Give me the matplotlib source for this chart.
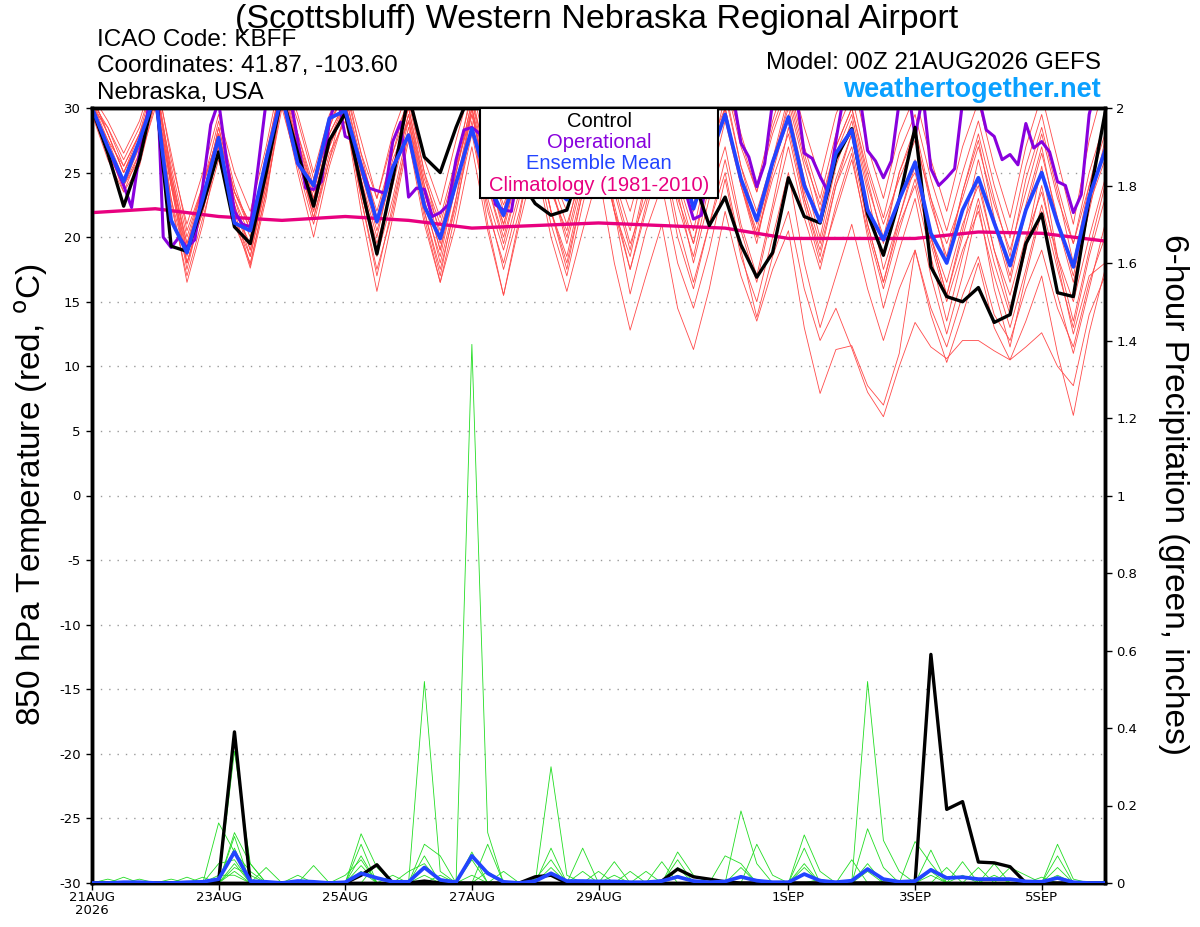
import numpy as np
import matplotlib.pyplot as plt
from matplotlib.patches import Rectangle

plt.rcParams['font.family'] = ['Liberation Sans Narrow', 'Liberation Sans', 'DejaVu Sans']

# forecast hours (6-hourly ensemble, 3-hourly operational run)
hours = np.arange(0, 385, 6)
hours_op = np.arange(0, 385, 3)
clim_hours = np.arange(0, 385, 24)

tick_hours = [0, 48, 96, 144, 192, 264, 312, 360]
tick_labels = ['21AUG\n2026', '23AUG', '25AUG', '27AUG', '29AUG', '1SEP', '3SEP', '5SEP']

# 850 hPa temperature (C)
control_t = [30.0, 26.5, 22.4, 26.0, 31.5, 19.3, 18.9, 22.5,
             26.6, 20.8, 19.5, 25.0, 31.0, 26.5, 22.4, 27.5,
             29.6, 24.0, 18.7, 24.5, 31.0, 26.2, 25.0, 28.5,
             31.5, 29.0, 25.0, 24.5, 22.6, 21.7, 22.1, 26.0,
             28.0, 30.0, 25.5, 27.0, 30.0, 28.0, 24.5, 20.9,
             23.1, 19.4, 16.9, 18.8, 24.6, 21.6, 21.1, 26.1,
             28.4, 21.8, 18.6, 22.9, 28.5, 17.7, 15.4, 15.0,
             16.1, 13.4, 14.0, 19.5, 21.8, 15.7, 15.4, 22.9, 29.6]

mean_t = [30.0, 27.0, 24.3, 27.5, 31.0, 21.3, 18.8, 23.0,
          27.7, 21.1, 20.5, 26.0, 31.0, 25.7, 24.0, 29.2,
          29.8, 25.5, 21.2, 25.4, 27.9, 22.4, 19.9, 24.2,
          28.4, 24.2, 21.7, 25.5, 26.0, 24.0, 22.9, 26.0,
          28.5, 27.0, 25.0, 27.0, 29.0, 27.0, 22.2, 26.0,
          29.5, 24.5, 21.3, 25.8, 29.3, 24.0, 21.2, 26.5,
          28.3, 22.1, 19.8, 22.9, 25.8, 20.3, 18.0, 22.1,
          24.6, 21.1, 17.8, 22.1, 25.0, 21.1, 17.7, 23.1, 26.7]

oper_t = [30.0, 28.5, 27.0, 25.5, 24.0, 22.3, 26.5, 29.5, 36.0, 20.0,
          19.2, 20.0, 19.2, 19.8, 24.0, 28.7, 30.5, 26.0, 22.0, 21.0,
          20.8, 25.5, 30.5, 32.0, 32.0, 31.0, 27.5, 23.8, 23.7, 24.3,
          29.0, 31.0, 27.8, 27.5, 25.5, 23.8, 23.6, 23.4, 27.4, 28.9,
          23.1, 23.8, 23.7, 21.6, 21.9, 22.5, 26.0, 28.3, 28.5, 28.0,
          25.0, 22.5, 22.1, 22.0, 26.0, 28.0, 31.0, 31.0, 28.0, 26.0,
          25.0, 26.0, 28.0, 31.0, 32.0, 31.0, 28.0, 26.0, 25.0, 26.0,
          29.0, 31.0, 32.0, 30.0, 26.0, 23.5, 21.4, 21.7, 27.0, 31.0,
          32.0, 31.0, 27.3, 26.2, 23.9, 25.7, 30.5, 32.0, 32.0, 31.0,
          26.5, 26.1, 24.7, 23.5, 27.5, 31.0, 32.0, 31.0, 26.7, 25.9,
          24.6, 25.9, 30.5, 32.0, 27.8, 31.0, 25.3, 24.0, 24.6, 25.3,
          30.5, 32.0, 31.0, 28.3, 27.8, 26.0, 26.4, 25.6, 28.8, 26.9,
          27.4, 26.6, 24.3, 24.0, 21.9, 23.3, 29.5, 32.0, 32.0]

clim_t = [21.9, 22.2, 21.6, 21.3, 21.6, 21.3, 20.7, 20.9, 21.1,
          20.9, 20.7, 19.9, 19.9, 19.9, 20.4, 20.3, 19.7]

member_t = [
    [30.5, 28.0, 25.0, 27.5, 32.0, 25.0, 19.5, 23.0, 28.5, 23.5, 21.0, 26.0, 32.5, 29.0, 24.5, 29.0,
     31.0, 26.0, 22.0, 26.5, 30.0, 24.0, 20.5, 25.0, 30.5, 26.0, 22.5, 26.0, 28.0, 25.0, 23.0, 27.0,
     31.0, 28.0, 25.0, 28.5, 32.0, 27.0, 23.5, 28.0, 31.5, 25.5, 22.0, 26.0, 31.0, 26.0, 22.5, 27.0,
     30.0, 25.0, 21.0, 24.5, 27.5, 23.0, 19.5, 23.0, 27.0, 22.5, 19.0, 23.5, 28.0, 23.0, 19.5, 24.0, 29.0],
    [29.5, 26.5, 24.0, 26.5, 30.5, 22.5, 17.0, 21.5, 26.0, 21.5, 18.5, 24.0, 31.0, 26.0, 21.5, 26.5,
     29.0, 23.5, 18.5, 23.0, 28.5, 22.0, 17.5, 22.5, 28.0, 22.0, 18.0, 23.0, 26.5, 21.0, 17.0, 22.5,
     27.5, 22.0, 18.5, 24.0, 29.0, 23.0, 19.5, 24.5, 30.0, 24.0, 20.0, 25.0, 29.5, 23.0, 18.5, 24.0,
     28.0, 21.0, 16.5, 21.5, 26.0, 20.0, 15.5, 20.0, 24.5, 19.0, 14.5, 19.5, 25.5, 18.5, 13.5, 19.0, 24.0],
    [30.0, 27.0, 24.5, 27.0, 31.5, 23.0, 16.5, 21.0, 27.0, 22.0, 17.8, 23.5, 30.5, 25.0, 20.0, 25.5,
     29.5, 22.0, 15.8, 21.5, 27.5, 21.0, 16.5, 22.0, 29.0, 21.0, 15.5, 21.0, 26.0, 20.0, 15.8, 20.5,
     25.0, 18.0, 12.8, 17.0, 21.0, 14.5, 11.3, 16.0, 22.0, 17.0, 13.5, 17.5, 20.5, 13.0, 7.9, 11.3,
     11.6, 8.5, 7.0, 11.0, 19.0, 14.0, 10.3, 14.0, 18.0, 13.0, 10.5, 13.5, 17.0, 11.0, 6.2, 12.6, 17.5],
    [30.5, 27.5, 25.5, 28.0, 31.0, 24.0, 18.0, 22.0, 27.5, 22.5, 19.0, 24.5, 31.5, 27.0, 23.0, 27.5,
     30.0, 24.0, 19.5, 24.0, 29.0, 22.5, 18.5, 24.0, 30.0, 23.0, 19.0, 23.5, 27.0, 22.0, 18.5, 24.0,
     28.0, 22.5, 17.5, 22.0, 26.5, 20.0, 16.0, 21.0, 25.0, 19.0, 13.8, 18.5, 22.0, 16.0, 12.0, 14.5,
     11.4, 8.0, 6.1, 10.0, 13.4, 11.5, 10.6, 12.0, 12.0, 11.2, 10.5, 11.5, 12.6, 10.0, 8.5, 14.0, 17.0],
    [29.5, 27.0, 24.0, 26.0, 30.0, 23.0, 18.0, 22.5, 27.0, 22.0, 19.5, 25.0, 31.0, 26.5, 22.0, 27.0,
     30.0, 23.0, 17.5, 22.0, 28.0, 21.5, 16.5, 21.0, 27.0, 20.5, 15.5, 21.5, 28.0, 22.0, 17.5, 23.5,
     29.0, 22.0, 15.6, 20.5, 24.0, 18.0, 14.5, 19.0, 24.5, 18.5, 15.0, 20.0, 25.0, 18.0, 13.0, 17.0,
     21.0, 16.0, 12.0, 16.0, 19.0, 14.5, 11.5, 15.5, 18.5, 14.0, 12.0, 16.0, 19.0, 14.5, 11.5, 16.5, 20.0],
    [31.0, 29.0, 26.5, 29.0, 33.0, 26.0, 21.0, 25.0, 29.5, 25.0, 22.0, 27.0, 33.0, 29.5, 25.0, 29.5,
     32.0, 27.5, 23.0, 28.0, 31.5, 26.0, 22.5, 27.5, 32.0, 27.5, 24.0, 28.5, 31.0, 27.5, 24.5, 29.0,
     32.0, 29.0, 26.0, 30.5, 33.0, 29.0, 25.5, 30.0, 33.0, 28.0, 24.0, 29.0, 33.0, 28.5, 24.5, 29.5,
     32.5, 27.0, 23.0, 28.0, 31.0, 26.0, 22.0, 27.0, 30.5, 25.5, 21.5, 27.0, 31.0, 26.0, 21.0, 27.5, 32.0],
    [30.0, 28.5, 25.5, 28.0, 31.5, 25.5, 20.0, 24.0, 28.0, 23.0, 20.0, 25.5, 32.0, 28.0, 24.0, 28.0,
     30.5, 25.0, 21.5, 25.5, 29.0, 23.5, 19.0, 24.0, 29.5, 24.5, 21.0, 25.5, 29.0, 25.0, 22.0, 26.0,
     30.0, 25.5, 22.0, 26.5, 30.5, 24.5, 20.5, 26.0, 30.0, 24.0, 20.5, 25.5, 29.0, 23.5, 19.5, 24.5,
     28.0, 22.5, 18.5, 23.0, 25.0, 20.0, 16.5, 21.0, 24.0, 19.0, 15.5, 20.0, 23.5, 18.5, 15.0, 20.0, 24.5],
    [30.5, 27.0, 23.5, 26.5, 32.0, 24.5, 18.5, 23.5, 27.0, 21.5, 17.6, 23.0, 31.0, 27.5, 23.5, 28.5,
     31.5, 26.5, 23.0, 27.5, 30.5, 25.0, 21.5, 26.0, 31.0, 25.5, 21.0, 25.5, 30.0, 26.0, 23.5, 27.5,
     31.5, 27.0, 24.0, 28.0, 31.0, 26.0, 22.0, 27.0, 30.0, 24.5, 20.0, 24.5, 28.0, 22.5, 18.0, 22.0,
     26.0, 20.5, 16.0, 20.5, 24.5, 19.5, 15.0, 19.0, 22.0, 17.0, 13.0, 17.5, 22.5, 17.5, 13.0, 18.5, 23.0],
    [30.0, 27.5, 24.5, 27.5, 31.0, 24.0, 19.0, 23.0, 28.5, 23.5, 20.5, 26.5, 32.0, 27.0, 22.5, 27.0,
     30.0, 24.5, 20.0, 25.5, 30.0, 24.5, 21.0, 25.5, 29.5, 24.0, 20.0, 24.5, 28.5, 24.5, 21.0, 25.0,
     27.0, 22.0, 17.5, 22.5, 28.0, 22.5, 18.5, 24.0, 29.0, 24.0, 19.5, 25.5, 30.5, 25.5, 21.0, 26.5,
     29.5, 24.0, 20.0, 25.0, 28.0, 22.5, 18.5, 23.5, 27.5, 21.5, 17.0, 22.5, 27.0, 21.0, 16.5, 22.0, 27.5],
    [31.0, 28.0, 25.0, 28.0, 32.5, 25.0, 19.0, 24.0, 29.0, 24.0, 20.5, 25.5, 31.5, 26.5, 21.5, 26.0,
     29.5, 23.0, 17.0, 22.5, 28.0, 22.0, 17.0, 23.0, 30.0, 25.0, 21.5, 26.5, 29.5, 24.0, 19.5, 24.5,
     30.0, 24.5, 20.5, 26.0, 31.5, 26.5, 22.5, 27.5, 32.0, 27.0, 23.5, 28.5, 32.0, 27.0, 23.0, 28.0,
     31.0, 25.5, 21.5, 26.5, 29.5, 24.5, 20.5, 25.0, 29.0, 24.0, 20.0, 25.5, 29.5, 24.0, 19.5, 25.0, 29.0],
    [29.5, 26.0, 23.5, 25.5, 30.5, 24.5, 18.0, 22.0, 26.5, 21.0, 18.0, 23.5, 30.0, 25.5, 21.0, 26.0,
     31.0, 25.5, 21.0, 26.0, 29.0, 23.0, 18.0, 23.0, 28.5, 22.5, 17.5, 22.0, 27.5, 22.0, 18.0, 23.5,
     29.5, 24.0, 19.5, 23.0, 27.0, 21.0, 16.5, 21.0, 26.0, 20.5, 16.5, 22.0, 27.0, 21.5, 17.5, 22.5,
     26.5, 20.0, 14.5, 19.0, 23.0, 17.0, 12.5, 17.0, 22.5, 16.0, 11.5, 17.0, 22.0, 15.5, 11.0, 16.0, 21.0],
    [30.5, 28.5, 26.0, 28.5, 32.5, 26.5, 20.5, 24.0, 28.0, 23.0, 19.0, 24.0, 32.5, 28.0, 23.5, 28.5,
     32.0, 26.5, 21.5, 26.5, 31.0, 25.0, 20.0, 25.5, 31.5, 26.5, 22.0, 27.0, 30.5, 26.0, 23.0, 27.5,
     31.5, 27.0, 23.5, 28.5, 32.5, 27.5, 23.0, 28.5, 32.5, 27.5, 23.5, 28.0, 31.5, 26.5, 22.0, 27.0,
     30.0, 24.5, 19.5, 25.0, 28.5, 23.0, 18.0, 23.5, 28.0, 23.0, 18.5, 24.5, 28.5, 23.5, 18.0, 24.0, 28.0],
    [30.0, 27.0, 24.0, 27.0, 31.0, 24.0, 17.5, 22.5, 27.5, 22.5, 18.5, 24.5, 31.0, 26.0, 22.0, 27.5,
     30.5, 25.0, 20.5, 25.0, 29.5, 24.0, 19.5, 25.0, 30.5, 25.0, 20.5, 25.5, 29.5, 24.0, 20.0, 25.0,
     29.0, 23.5, 19.0, 24.5, 29.5, 24.0, 19.5, 25.5, 31.0, 25.5, 21.0, 26.0, 30.0, 24.5, 20.0, 25.5,
     29.0, 23.5, 17.5, 21.5, 25.5, 20.0, 15.5, 20.5, 26.0, 21.0, 16.5, 22.0, 26.5, 21.5, 17.0, 22.5, 26.0],
    [31.0, 28.0, 25.0, 27.5, 31.5, 24.5, 19.5, 24.0, 28.0, 23.5, 21.0, 26.0, 32.0, 27.5, 23.0, 28.0,
     30.5, 24.5, 19.0, 24.5, 29.5, 23.5, 19.0, 25.0, 30.0, 24.0, 19.5, 24.5, 29.0, 23.5, 20.5, 26.0,
     31.0, 26.5, 23.0, 27.5, 30.0, 23.5, 18.0, 23.0, 27.0, 21.0, 17.0, 22.5, 28.5, 23.0, 19.0, 24.0,
     27.0, 21.0, 16.5, 21.0, 24.0, 18.5, 13.5, 18.5, 23.0, 18.0, 14.0, 19.0, 24.0, 18.0, 12.5, 17.0, 18.0],
]

# 6-hour precipitation (inches)
control_p = [0, 0, 0, 0, 0, 0, 0, 0, .005, .39, 0, 0, 0,
             0, 0, 0, 0, .02, .047, 0, 0, .005, 0, 0, 0, 0,
             0, 0, .016, .02, 0, 0, 0, 0, 0, 0, .005, .036, .016,
             .01, .003, 0, 0, 0, 0, 0, 0, 0, 0, 0, 0, 0,
             0, .59, .19, .21, .054, .052, .042, 0, 0, 0, 0, 0, 0]

mean_p = [0, 0, .002, .002, 0, 0, .002, .003, .01, .08, .005, .003, 0,
          .005, .003, 0, .002, .025, .013, .003, .003, .04, .008, .002, .07, .025,
          .003, 0, .005, .025, .005, .005, .004, .004, .002, .002, .005, .016, .005,
          .002, .004, .016, .006, .002, .002, .023, .006, .002, .006, .036, .01, .003,
          .005, .034, .013, .015, .01, .01, .01, .004, .003, .013, .002, 0, 0]

member_p = [
    [0, 0, .015, 0, 0, 0, 0, 0, .155, .08, .03, 0, 0,
     0, 0, 0, 0, .127, .04, 0, 0, 0, 0, 0, 0, 0,
     0, 0, 0, .30, .02, 0, 0, 0, 0, 0, 0, 0, 0,
     0, 0, .186, .05, 0, 0, 0, 0, 0, 0, .14, .04, 0,
     0, 0, 0, 0, 0, 0, 0, 0, 0, .1, .01, 0, 0],
    [0, 0, 0, .01, 0, 0, 0, 0, 0, .34, .05, 0, 0,
     0, 0, 0, 0, 0, 0, 0, 0, .52, .03, 0, 0, 0,
     0, 0, 0, 0, 0, 0, 0, 0, 0, 0, 0, .08, .02,
     0, 0, 0, 0, 0, 0, .124, .03, 0, 0, 0, 0, 0,
     0, .085, 0, .055, 0, 0, 0, 0, 0, 0, 0, 0, 0],
    [0, 0, 0, 0, 0, 0, 0, 0, 0, .03, 0, 0, 0,
     0, .045, 0, 0, 0, 0, 0, 0, 0, 0, 0, 1.39, .13,
     0, 0, 0, 0, 0, 0, 0, .055, 0, 0, 0, 0, 0,
     0, 0, 0, 0, 0, 0, 0, 0, 0, 0, .05, 0, 0,
     0, 0, 0, 0, 0, .05, 0, 0, 0, 0, 0, 0, 0],
    [0, 0, 0, 0, 0, 0, .015, 0, 0, .13, .05, 0, 0,
     0, 0, 0, 0, .1, 0, 0, 0, 0, 0, 0, .08, 0,
     0, 0, 0, .09, 0, 0, 0, 0, 0, 0, .055, 0, 0,
     0, 0, 0, 0, 0, 0, .09, 0, 0, 0, .52, .11, .03,
     0, 0, 0, 0, 0, 0, 0, 0, 0, .07, 0, 0, 0],
    [0, 0, 0, 0, 0, .01, 0, 0, 0, .12, 0, .04, 0,
     0, 0, 0, 0, 0, .05, 0, 0, .1, .07, 0, 0, .1,
     0, 0, 0, 0, 0, .09, 0, 0, 0, 0, 0, 0, 0,
     0, .07, .05, 0, 0, 0, 0, 0, 0, 0, 0, 0, 0,
     .107, .05, 0, 0, 0, 0, 0, 0, 0, 0, 0, 0, 0],
    [0, 0, 0, 0, 0, 0, 0, .015, 0, .09, 0, 0, 0,
     .02, 0, 0, 0, .07, 0, 0, 0, .07, 0, 0, .06, 0,
     0, 0, .01, .06, 0, 0, 0, 0, 0, 0, 0, .06, 0,
     0, 0, 0, .1, .02, 0, 0, 0, 0, .06, 0, 0, 0,
     0, 0, .04, 0, .04, 0, 0, 0, 0, .04, 0, 0, 0],
    [0, 0, 0, 0, 0, 0, 0, 0, .05, .06, 0, 0, 0,
     0, 0, 0, .02, .06, 0, 0, .03, .05, 0, 0, 0, 0,
     0, 0, 0, .04, 0, 0, .03, 0, .03, 0, 0, .04, 0,
     0, 0, 0, 0, 0, 0, .05, 0, 0, 0, 0, 0, 0,
     0, 0, 0, 0, 0, 0, .04, .02, 0, 0, 0, 0, 0],
    [0, 0, 0, 0, 0, 0, 0, 0, 0, .05, 0, 0, 0,
     0, 0, 0, 0, .045, 0, .02, 0, 0, 0, 0, 0, .03,
     0, 0, 0, 0, 0, .03, 0, 0, 0, .03, 0, 0, 0,
     0, 0, .04, 0, 0, 0, .04, 0, 0, 0, 0, 0, 0,
     0, .03, 0, 0, 0, .02, 0, 0, .015, 0, 0, 0, 0],
    [0, 0, 0, 0, 0, 0, 0, 0, 0, .04, .02, 0, 0,
     0, 0, 0, 0, .03, 0, 0, 0, .02, 0, 0, .02, 0,
     0, 0, 0, 0, 0, 0, 0, 0, 0, 0, 0, .02, 0,
     0, 0, 0, 0, 0, 0, 0, 0, 0, 0, .03, 0, 0,
     0, .02, 0, 0, 0, 0, 0, 0, 0, .02, 0, 0, 0],
    [0, .01, 0, 0, 0, 0, 0, 0, .02, .02, 0, 0, 0,
     0, 0, 0, 0, 0, 0, 0, 0, 0, .02, 0, 0, 0,
     .03, 0, 0, 0, 0, 0, 0, .02, 0, 0, 0, 0, 0,
     0, 0, 0, 0, 0, 0, 0, .01, 0, 0, 0, 0, 0,
     0, 0, 0, .02, 0, 0, 0, 0, 0, 0, 0, 0, .005],
]

fig = plt.figure(figsize=(12, 9.27), dpi=100)
ax = fig.add_axes([92/1200, 44/927, 1013/1200, 775/927])
ax2 = ax.twinx()

# temperature
for m in member_t:
    ax.plot(hours, m, color='#ff4a4a', lw=0.6, zorder=2)
ax.plot(clim_hours, clim_t, color='#e8007f', lw=2.4, zorder=4)
ax.plot(hours_op, oper_t, color='#8800dd', lw=2.2, zorder=5)
ax.plot(hours, control_t, color='black', lw=2.4, zorder=6)
ax.plot(hours, mean_t, color='#2244ff', lw=2.7, zorder=7)

# precipitation
for m in member_p:
    ax2.plot(hours, m, color='#22dd22', lw=0.6, zorder=2)
ax2.plot(hours, control_p, color='black', lw=2.4, zorder=5)
ax2.plot(hours, mean_p, color='#2244ff', lw=2.7, zorder=6)

ax.set_xlim(0, 384)
ax.set_ylim(-30, 30)
ax2.set_ylim(0, 2)

ax.set_yticks(np.arange(-30, 31, 5))
ax.set_yticklabels([str(v) for v in range(-30, 31, 5)], family='DejaVu Sans', fontsize=9.5)
p_ticks = [0, 0.2, 0.4, 0.6, 0.8, 1, 1.2, 1.4, 1.6, 1.8, 2]
ax2.set_yticks(p_ticks)
ax2.set_yticklabels(['0', '0.2', '0.4', '0.6', '0.8', '1', '1.2', '1.4', '1.6', '1.8', '2'],
                    family='DejaVu Sans', fontsize=9.5)
ax.set_xticks(tick_hours)
ax.set_xticklabels(tick_labels, family='DejaVu Sans', fontsize=9.5, linespacing=1.0)

ax.yaxis.grid(True, linestyle=(0, (1, 5)), color='#999999', lw=1.0)
ax.tick_params(axis='y', direction='out', length=4, width=1, pad=4)
ax.tick_params(axis='x', direction='out', length=5, width=1, pad=1)
ax2.tick_params(axis='y', direction='out', length=5, width=1, pad=3)

for sp in list(ax.spines.values()) + list(ax2.spines.values()):
    sp.set_linewidth(2.5)

# axis titles
fig.text(31/1200, 1 - 495/927, '850 hPa Temperature (red, $^\\mathrm{o}$C)', fontsize=24,
         rotation=90, ha='center', va='center')
fig.text(1174/1200, 1 - 495/927, '6-hour Precipitation (green, inches)', fontsize=24,
         rotation=270, ha='center', va='center')

# legend box
ax2.add_patch(Rectangle((0.383, 0.884), 0.235, 0.116, transform=ax2.transAxes,
                        facecolor='white', edgecolor='black', lw=1.5, zorder=20, clip_on=False))
leg_items = [('Control', 'black'), ('Operational', '#8800dd'),
             ('Ensemble Mean', '#2244ff'), ('Climatology (1981-2010)', '#e8007f')]
for k, (txt, col) in enumerate(leg_items):
    ax2.text(0.5005, 0.983 - k*0.0275, txt, color=col, fontsize=14.5, ha='center', va='center',
             transform=ax2.transAxes, zorder=21)

# header
fig.text(0.4975, 0.979, '(Scottsbluff) Western Nebraska Regional Airport', fontsize=24.5,
         ha='center', va='center')
fig.text(97/1200, 1 - 40/927, 'ICAO Code: KBFF', fontsize=17.5, ha='left', va='center')
fig.text(97/1200, 1 - 66/927, 'Coordinates: 41.87, -103.60', fontsize=17.5, ha='left', va='center')
fig.text(97/1200, 1 - 93/927, 'Nebraska, USA', fontsize=17.5, ha='left', va='center')
fig.text(1101/1200, 1 - 63/927, 'Model: 00Z 21AUG2026 GEFS', fontsize=17.5, ha='right', va='center')
fig.text(1101/1200, 1 - 90/927, 'weathertogether.net', fontsize=19.5, ha='right', va='center',
         color='#0aa0ff', fontweight='bold')

fig.savefig('out.png', dpi=100)
